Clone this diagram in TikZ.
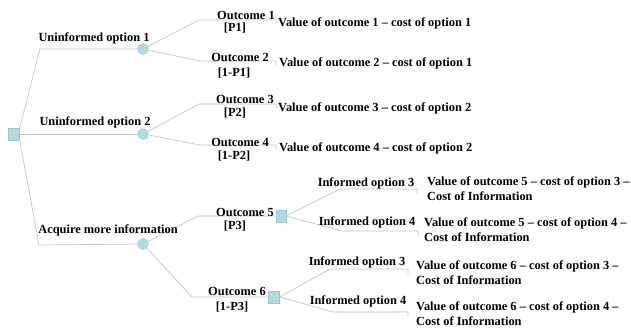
\documentclass[tikz,border=0pt]{standalone}
\usepackage{fontspec}
\setmainfont{Liberation Serif}
\definecolor{linegray}{HTML}{C4C4C4}
\definecolor{nodefill}{HTML}{B0DCE0}
\definecolor{nodedraw}{HTML}{98C8CE}
\begin{document}
\begin{tikzpicture}[x=1pt,y=-1pt,
  edge/.style={draw=linegray, line width=0.7pt},
  chance/.style={circle, fill=nodefill, draw=nodedraw, line width=0.4pt, minimum size=11pt, inner sep=0pt},
  decision/.style={rectangle, fill=nodefill, draw=nodedraw, line width=0.4pt, minimum width=11pt, minimum height=12pt, inner sep=0pt},
  lbl/.style={font=\fontsize{12.4}{15}\selectfont\bfseries, inner sep=0pt, anchor=base},
  val/.style={lbl, anchor=base west}]
\useasboundingbox (0,0) rectangle (631,330);

% decision and chance nodes
\node[decision] (root) at (14,134) {};
\node[chance] (c1) at (143,49) {};
\node[chance] (c2) at (143,134) {};
\node[chance] (c3) at (143,244) {};
\node[decision, minimum width=10pt, minimum height=12pt] (s5) at (281,216) {};
\node[decision, minimum width=11pt, minimum height=12pt] (s6) at (274,297) {};

% bend and end points
\coordinate (k1) at (40,49);
\coordinate (k3) at (39,245);
\coordinate (b1) at (199,20);  \coordinate (e1) at (276,20);
\coordinate (b2) at (200,61);  \coordinate (e2) at (276,61);
\coordinate (b3) at (199,104); \coordinate (e3) at (276,104);
\coordinate (b4) at (200,145); \coordinate (e4) at (276,145);
\coordinate (b5) at (198,216);
\coordinate (b6) at (192,297);
\coordinate (b7) at (340,189); \coordinate (e7) at (417,189);
\coordinate (b8) at (342,231); \coordinate (e8) at (418,231);
\coordinate (b9) at (330,269); \coordinate (e9) at (408,269);
\coordinate (b10) at (333,312); \coordinate (e10) at (408,312);

% connectors
\draw[edge] (root.north east) -- (k1) -- (c1);
\draw[edge] (root.east) -- (c2);
\draw[edge] (root.south east) -- (k3) -- (c3);
\draw[edge] (c1) -- (b1) -- (e1) -- ++(0,4);
\draw[edge] (c1) -- (b2) -- (e2) -- ++(0,4);
\draw[edge] (c2) -- (b3) -- (e3) -- ++(0,4);
\draw[edge] (c2) -- (b4) -- (e4) -- ++(0,4);
\draw[edge] (c3) -- (b5) -- (s5.west);
\draw[edge] (c3) -- (b6) -- (s6.west);
\draw[edge] (s5.east) -- (b7) -- (e7) -- ++(0,5);
\draw[edge] (s5.east) -- (b8) -- (e8) -- ++(0,5);
\draw[edge] (s6.east) -- (b9) -- (e9) -- ++(0,5);
\draw[edge] (s6.east) -- (b10) -- (e10) -- ++(0,5);

% option labels
\node[lbl] (l1) at (94,41) {Uninformed option 1};
\node[lbl] (l2) at (95,125) {Uninformed option 2};
\node[lbl] (l3) at (108,233) {Acquire more information};

% outcome labels
\node[lbl] (o1) at (246,19) {Outcome 1};  \node[lbl] (p1) at (235,31) {[P1]};
\node[lbl] (o2) at (240,61) {Outcome 2};  \node[lbl] (p2) at (234,76) {[1-P1]};
\node[lbl] (o3) at (245,103) {Outcome 3}; \node[lbl] (p3) at (235,116) {[P2]};
\node[lbl] (o4) at (240,146) {Outcome 4}; \node[lbl] (p4) at (234,159) {[1-P2]};
\node[lbl] (o5) at (245,216) {Outcome 5}; \node[lbl] (p5) at (235,229) {[P3]};
\node[lbl] (o6) at (237,295) {Outcome 6}; \node[lbl] (p6) at (232,310) {[1-P3]};

% informed options
\node[lbl] (i1) at (366,186) {Informed option 3};
\node[lbl] (i2) at (367,225) {Informed option 4};
\node[lbl] (i3) at (357,265) {Informed option 3};
\node[lbl] (i4) at (358,304) {Informed option 4};

% values
\node[val] (v1) at (278,26) {Value of outcome 1 – cost of option 1};
\node[val] (v2) at (279,66) {Value of outcome 2 – cost of option 1};
\node[val] (v3) at (278,111) {Value of outcome 3 – cost of option 2};
\node[val] (v4) at (279,151) {Value of outcome 4 – cost of option 2};
\node[val] (v5) at (427,185) {Value of outcome 5 – cost of option 3 –};
\node[val] (v5b) at (427,200) {Cost of Information};
\node[val] (v6) at (424,226) {Value of outcome 5 – cost of option 4 –};
\node[val] (v6b) at (424,241) {Cost of Information};
\node[val] (v7) at (416,269) {Value of outcome 6 – cost of option 3 –};
\node[val] (v7b) at (416,284) {Cost of Information};
\node[val] (v8) at (416,310) {Value of outcome 6 – cost of option 4 –};
\node[val] (v8b) at (416,325) {Cost of Information};
\end{tikzpicture}
\end{document}
